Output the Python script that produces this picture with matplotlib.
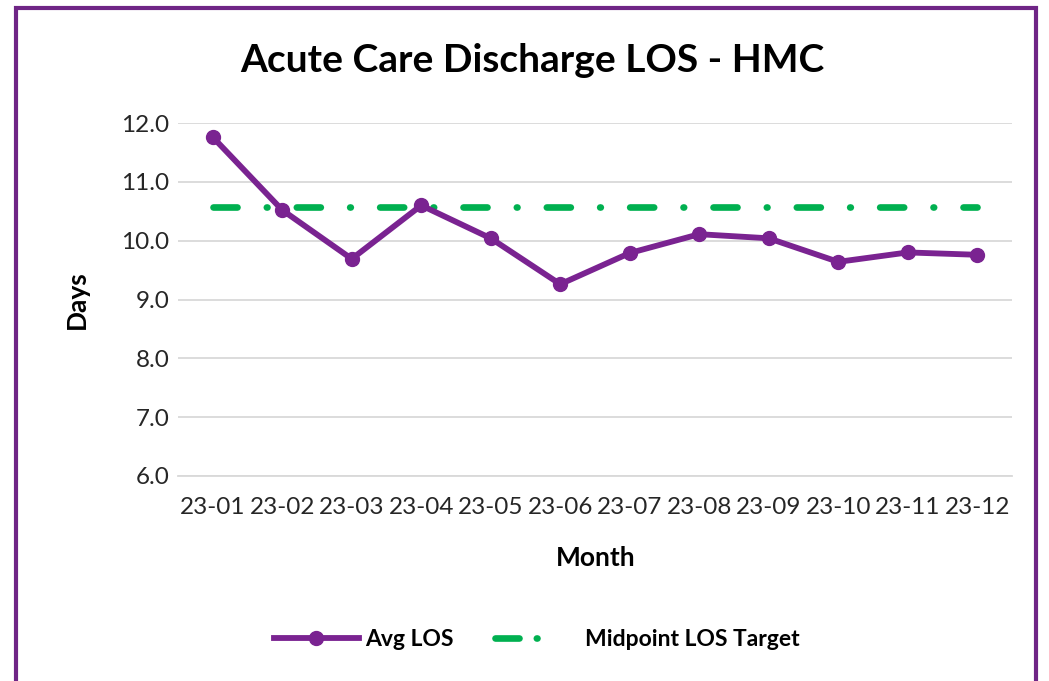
import matplotlib
matplotlib.use("Agg")
import matplotlib.pyplot as plt
from matplotlib.patches import Rectangle
from matplotlib.lines import Line2D

plt.rcParams['font.family'] = ['Lato', 'DejaVu Sans']

# data
months = ['23-01', '23-02', '23-03', '23-04', '23-05', '23-06',
          '23-07', '23-08', '23-09', '23-10', '23-11', '23-12']
avg_los = [11.76, 10.52, 9.69, 10.60, 10.04, 9.26,
           9.79, 10.11, 10.04, 9.64, 9.80, 9.76]
target = [10.57] * 12

purple = '#7A2391'
green = '#00B050'

fig = plt.figure(figsize=(10.49, 6.81), dpi=100)
ax = fig.add_axes([178 / 1049, 1 - 476 / 681, 834 / 1049, 353 / 681])

x = list(range(len(months)))
ax.plot(x, target, color=green, lw=4.8, dashes=(3.6, 4.4, 0.1, 4.4),
        dash_capstyle='round', zorder=2)
line_avg, = ax.plot(x, avg_los, color=purple, lw=4.2, marker='o', markersize=10,
                    zorder=3)

ax.set_xlim(-0.5, 11.5)
ax.set_ylim(6, 12)
ax.set_yticks([6, 7, 8, 9, 10, 11, 12])
ax.set_yticklabels([f'{v:.1f}' for v in [6, 7, 8, 9, 10, 11, 12]])
ax.set_xticks(x)
ax.set_xticklabels(months)
ax.tick_params(length=0, labelsize=17.5, colors='#262626')
ax.tick_params(axis='x', pad=15)
ax.tick_params(axis='y', pad=6)
ax.yaxis.grid(True, color='#D9D9D9', lw=1.3)
for s in ['top', 'right', 'left']:
    ax.spines[s].set_visible(False)
ax.spines['bottom'].set_color('#D9D9D9')
ax.spines['bottom'].set_linewidth(1.3)
ax.set_axisbelow(True)

fig.text(77 / 1049, 1 - 300 / 681, 'Days', rotation=90, ha='center', va='center',
         fontsize=19, fontweight='bold')
fig.text(596 / 1049, 1 - 558 / 681, 'Month', ha='center', va='center',
         fontsize=19, fontweight='bold')
fig.text(532 / 1049, 1 - 60 / 681, 'Acute Care Discharge LOS - HMC',
         ha='center', va='center', fontsize=28, fontweight='bold')

# legend handles: green one shows just one dash and one dot, like the original
h_avg = Line2D([], [], color=purple, lw=4.2, marker='o', markersize=10)
h_tgt = Line2D([], [], color=green, lw=4.8, dashes=(3.6, 2.6, 0.1, 20),
               dash_capstyle='round')
fig.legend([h_avg, h_tgt], ['Avg LOS', 'Midpoint LOS Target'], loc='center',
           bbox_to_anchor=(537 / 1049, 1 - 640 / 681),
           ncol=2, frameon=False, handlelength=3.7, handletextpad=0.26,
           columnspacing=1.8, prop={'weight': 'bold', 'size': 16.5})

fig.patches.append(Rectangle((16 / 1049, -0.05), 1020 / 1049, 1 - 8 / 681 + 0.05,
                             transform=fig.transFigure, fill=False,
                             edgecolor='#6F2586', lw=3))

fig.savefig('out.png', dpi=100)
